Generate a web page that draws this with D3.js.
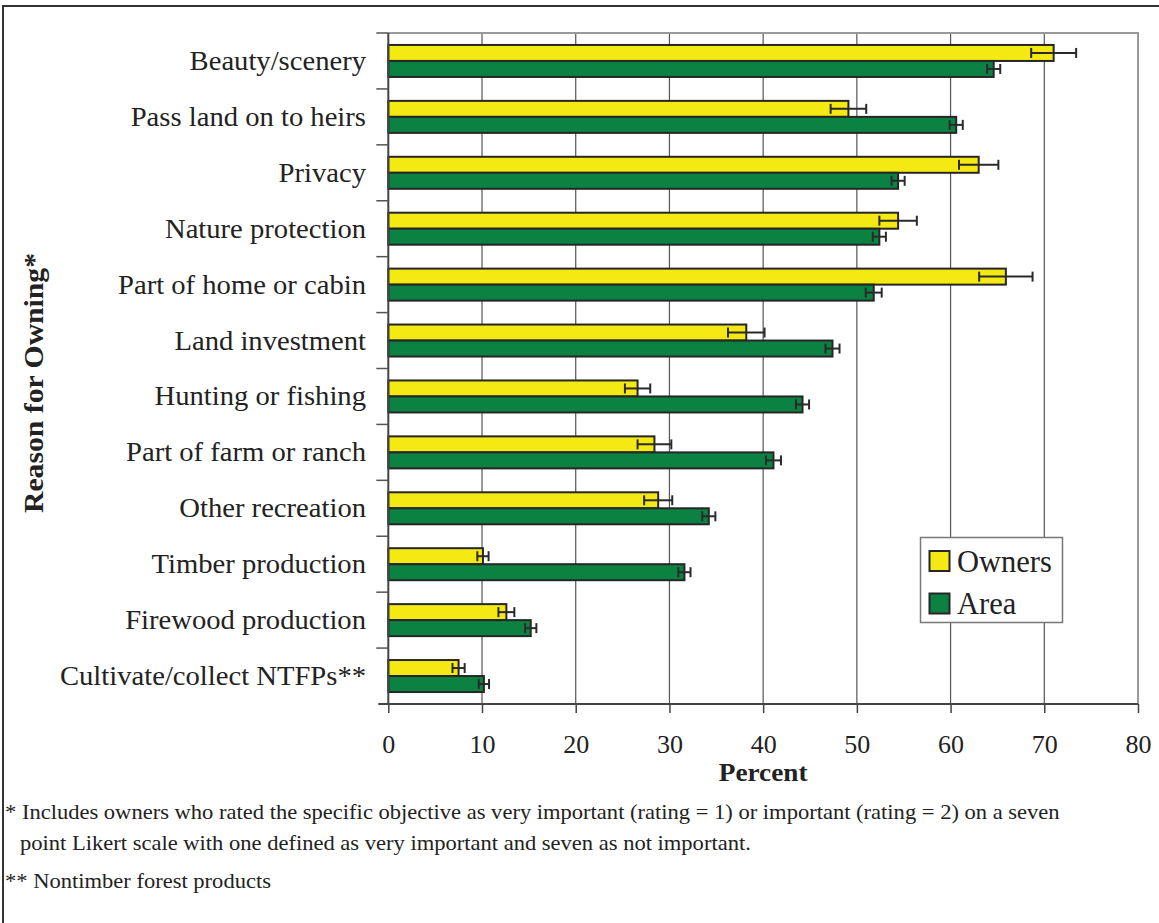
<!DOCTYPE html>
<html>
<head>
<meta charset="utf-8">
<script src="https://cdn.jsdelivr.net/npm/d3@7"></script>
<style>
  html, body { margin: 0; padding: 0; background: #fff; }
  svg { display: block; }
  text { font-family: "Liberation Serif", "Times New Roman", serif; fill: #222; }
</style>
</head>
<body>
<svg id="chart" width="1159" height="923"></svg>
<script>
const categories = [
  "Beauty/scenery", "Pass land on to heirs", "Privacy", "Nature protection",
  "Part of home or cabin", "Land investment", "Hunting or fishing",
  "Part of farm or ranch", "Other recreation", "Timber production",
  "Firewood production", "Cultivate/collect NTFPs**"
];
const seriesNames = ["Owners", "Area"];
const owners    = [71.0, 49.1, 63.0, 54.4, 65.9, 38.2, 26.6, 28.4, 28.8, 10.1, 12.6, 7.5];
const ownersErr = [2.4, 1.9, 2.1, 2.0, 2.85, 1.95, 1.35, 1.8, 1.5, 0.6, 0.85, 0.65];
const area      = [64.6, 60.6, 54.4, 52.4, 51.8, 47.4, 44.2, 41.1, 34.2, 31.6, 15.2, 10.2];
const areaErr   = [0.7, 0.7, 0.7, 0.7, 0.85, 0.75, 0.7, 0.8, 0.7, 0.65, 0.6, 0.55];
const xTicks = [0, 10, 20, 30, 40, 50, 60, 70, 80];
const xTitle = "Percent";
const yTitle = "Reason for Owning*";
const footnotes = [
  "* Includes owners who rated the specific objective as very important (rating = 1) or important (rating = 2) on a seven",
  "point Likert scale with one defined as very important and seven as not important.",
  "** Nontimber forest products"
];

const colors = { Owners: "#f5e914", Area: "#0b8142" };
const values = { Owners: owners, Area: area };
const errs = { Owners: ownersErr, Area: areaErr };

const svg = d3.select("#chart");
const plot = { left: 388.3, right: 1138, top: 33, bottom: 704 };

// helper: text with slight horizontal stretch
function stretchedText(parent, x, y, str, size, sx, anchor, weight) {
  const t = parent.append("g").attr("transform", `translate(${x},${y}) scale(${sx},1)`)
    .append("text").attr("x", 0).attr("y", 0)
    .attr("font-size", size)
    .attr("text-anchor", anchor || "start")
    .text(str);
  if (weight) t.attr("font-weight", weight);
  return t;
}

// outer frame
svg.append("rect").attr("x", 3).attr("y", 6).attr("width", 1165).attr("height", 930)
  .attr("fill", "none").attr("stroke", "#333").attr("stroke-width", 2);

const x = d3.scaleLinear().domain([0, 80]).range([plot.left, plot.right]);
const y = d3.scaleBand().domain(categories).range([plot.top, plot.bottom]).padding(0);
const ySub = d3.scaleBand().domain(seriesNames).range([0, y.bandwidth()])
  .paddingInner(0).paddingOuter(0.747);

// gridlines
svg.append("g").selectAll("line").data(xTicks.filter(t => t > 0 && t < 80)).join("line")
  .attr("x1", d => x(d)).attr("x2", d => x(d))
  .attr("y1", plot.top).attr("y2", plot.bottom)
  .attr("stroke", "#555").attr("stroke-width", 1.2);

// plot border top & right
svg.append("path")
  .attr("d", `M${plot.left},${plot.top}H${plot.right}V${plot.bottom}`)
  .attr("fill", "none").attr("stroke", "#999").attr("stroke-width", 2);

// bars
const g = svg.append("g");
seriesNames.forEach(s => {
  g.selectAll(null).data(categories).join("rect")
    .attr("x", x(0))
    .attr("y", d => y(d) + ySub(s))
    .attr("width", (d, i) => x(values[s][i]) - x(0))
    .attr("height", ySub.bandwidth())
    .attr("fill", colors[s])
    .attr("stroke", "#262626").attr("stroke-width", 2);
});

// error bars
seriesNames.forEach(s => {
  const eg = g.append("g").attr("stroke", "#2a2a2a").attr("stroke-width", 2);
  categories.forEach((c, i) => {
    const cy = y(c) + ySub(s) + ySub.bandwidth() / 2;
    const lo = x(values[s][i] - errs[s][i]), hi = x(values[s][i] + errs[s][i]);
    eg.append("line").attr("x1", lo).attr("x2", hi).attr("y1", cy).attr("y2", cy);
    eg.append("line").attr("x1", lo).attr("x2", lo).attr("y1", cy - 5).attr("y2", cy + 5);
    eg.append("line").attr("x1", hi).attr("x2", hi).attr("y1", cy - 5).attr("y2", cy + 5);
  });
});

// x axis
const xAxis = d3.axisBottom(x).tickValues(xTicks).tickSize(9).tickPadding(22).tickSizeOuter(0);
const xg = svg.append("g").attr("transform", `translate(0,${plot.bottom})`).call(xAxis);
xg.select(".domain").attr("d", `M${plot.left - 10},0H${plot.right}`).attr("stroke", "#444").attr("stroke-width", 2);
xg.selectAll(".tick line").attr("stroke", "#444").attr("stroke-width", 1.5);
xg.selectAll(".tick text").attr("font-size", 26).attr("font-family", "Liberation Serif").attr("fill", "#222")
  .attr("dy", "0.71em");

// y axis line and ticks at band boundaries
const bounds = categories.map(c => y(c));
svg.append("line").attr("x1", plot.left).attr("x2", plot.left).attr("y1", plot.top).attr("y2", plot.bottom)
  .attr("stroke", "#444").attr("stroke-width", 2);
svg.append("g").selectAll("line").data(bounds).join("line")
  .attr("x1", plot.left - 12).attr("x2", plot.left)
  .attr("y1", d => d).attr("y2", d => d)
  .attr("stroke", "#555").attr("stroke-width", 1.5);

// category labels
const labG = svg.append("g");
categories.forEach(c => {
  stretchedText(labG, 366, y(c) + y.bandwidth() / 2 + 9, c, 26.5, 1.08, "end");
});

// axis titles
stretchedText(svg, (plot.left + plot.right) / 2, 781, xTitle, 26, 1.05, "middle", "bold");
svg.append("g").attr("transform", "translate(43,383) rotate(-90) scale(1.1,1)")
  .append("text").attr("text-anchor", "middle").attr("font-size", 27).attr("font-weight", "bold").text(yTitle);

// legend
const lg = svg.append("g");
lg.append("rect").attr("x", 920.5).attr("y", 537.5).attr("width", 142).attr("height", 85)
  .attr("fill", "#fff").attr("stroke", "#777").attr("stroke-width", 1.5);
seriesNames.forEach((s, i) => {
  lg.append("rect").attr("x", 929.5).attr("y", 551 + i * 42.5).attr("width", 20).attr("height", 20)
    .attr("fill", colors[s]).attr("stroke", "#262626").attr("stroke-width", 2);
  lg.append("text").attr("x", 957).attr("y", 572 + i * 42).attr("font-size", 30.5).text(s);
});

// footnotes
stretchedText(svg, 5, 819, footnotes[0], 20.5, 1.1, "start");
stretchedText(svg, 20, 850, footnotes[1], 20.5, 1.1, "start");
stretchedText(svg, 5, 888, footnotes[2], 20.5, 1.1, "start");
</script>
</body>
</html>
